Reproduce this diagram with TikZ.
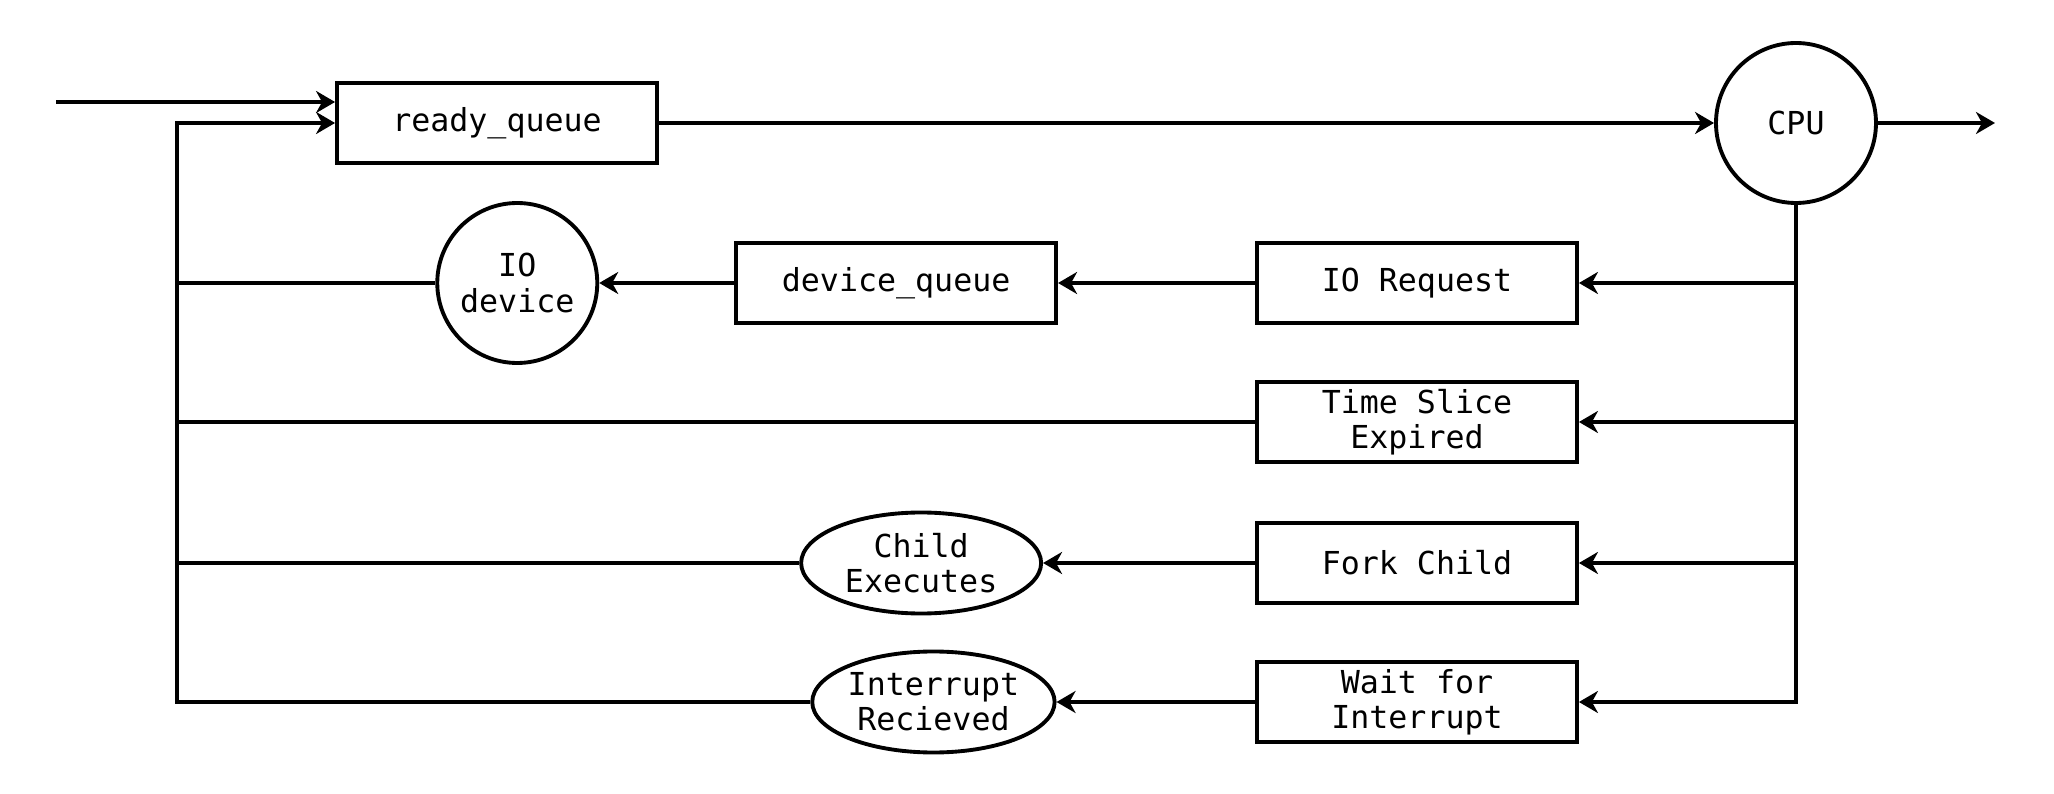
\documentclass[tikz,border=0pt]{standalone}
\usepackage{fontspec}
\setmonofont{DejaVu Sans Mono}
\usetikzlibrary{shapes,arrows.meta,positioning,calc}

\begin{document}
\begin{tikzpicture}[
    node distance=0.6cm and 2cm,
    every node/.style={font=\ttfamily\fontsize{9}{10}\selectfont, align=center},
    queue/.style={rectangle, draw, line width=1.1pt, minimum width=3.2cm, minimum height=0.8cm, inner sep=1pt},
    proc/.style={circle, draw, line width=1.1pt, minimum size=1.6cm, inner sep=0pt},
    event/.style={ellipse, draw, line width=1.1pt, minimum width=2.4cm, minimum height=1.01cm, inner sep=0pt},
    arrow/.style={-{Stealth[length=0.19cm, width=0.22cm, inset=0.06cm]}, line width=1.1pt},
    link/.style={line width=1.1pt}
]
    \useasboundingbox (0,0) rectangle (20.54,-7.94);

    \node[queue] (ready) at (4.97,-1.23) {ready\_queue};
    \node[proc] (cpu) at (17.96,-1.23) {CPU};

    \node[queue] (ioreq) at (14.17,-2.83) {IO Request};
    \node[queue] (slice) at (14.17,-4.22) {Time Slice\\Expired};
    \node[queue] (fork) at (14.17,-5.63) {Fork Child};
    \node[queue] (wait) at (14.17,-7.02) {Wait for\\Interrupt};

    \node[queue, left=1.97cm of ioreq] (devq) {device\_queue};
    \node[proc, left=1.35cm of devq] (iodev) {IO\\device};
    \node[event, left=2.12cm of fork] (child) {Child\\Executes};
    \node[event, minimum width=2.41cm, left=1.985cm of wait] (intr) {Interrupt\\Recieved};

    \coordinate (start) at (0.56,-1.02);
    \coordinate (exit) at (19.95,-1.23);
    \coordinate (bus) at (1.77,-1.23);

    % main path
    \draw[arrow] (start) -- (ready.west |- start);
    \draw[arrow] (ready) -- (cpu);
    \draw[arrow] (cpu) -- (exit);

    % from cpu to the events
    \draw[arrow] (cpu.south) |- (wait.east);
    \draw[arrow] (cpu |- ioreq.east) -- (ioreq.east);
    \draw[arrow] (cpu |- slice.east) -- (slice.east);
    \draw[arrow] (cpu |- fork.east) -- (fork.east);

    \draw[arrow] (ioreq) -- (devq);
    \draw[arrow] (devq) -- (iodev);
    \draw[arrow] (fork) -- (child);
    \draw[arrow] (wait) -- (intr);

    % back to the ready queue
    \draw[arrow] (intr.west) -| (bus) -- (ready.west);
    \draw[link] (iodev.west) -- (iodev.west -| bus);
    \draw[link] (slice.west) -- (slice.west -| bus);
    \draw[link] (child.west) -- (child.west -| bus);
\end{tikzpicture}
\end{document}
